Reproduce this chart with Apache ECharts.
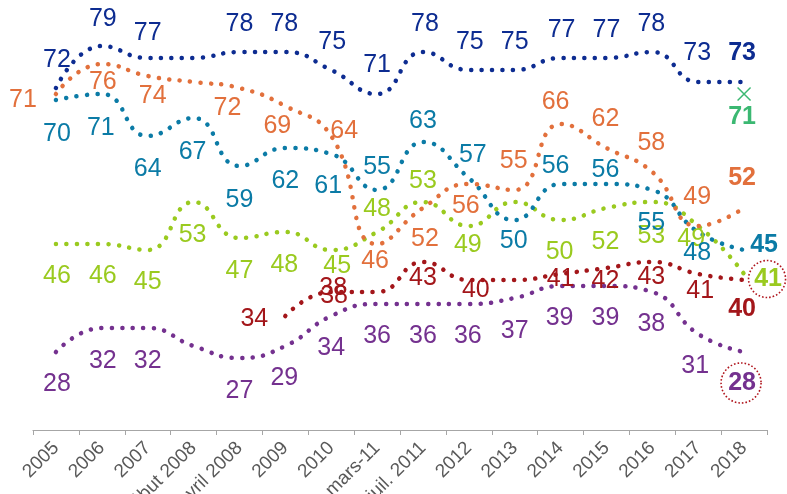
<!DOCTYPE html>
<html>
<head>
<meta charset="utf-8">
<script src="https://cdn.jsdelivr.net/npm/echarts@6/dist/echarts.min.js"></script>
<style>
  html, body { margin: 0; padding: 0; background: #fff; }
  #chart { width: 787px; height: 494px; }
</style>
</head>
<body>
<div id="chart"></div>
<script>
const categories = ['2005', '2006', '2007', 'début 2008', 'avril 2008', '2009', '2010', 'mars-11',
  'juil. 2011', '2012', '2013', '2014', '2015', '2016', '2017', '2018'];

const navy = [72, 79, 77, 77, 78, 78, 75, 71, 78, 75, 75, 77, 77, 78, 73, 73];
const orange = [71, 76, 74, 73, 72, 69, 64, 46, 52, 56, 55, 66, 62, 58, 49, 52];
const teal = [70, 71, 64, 67, 59, 62, 61, 55, 63, 57, 50, 56, 56, 55, 48, 45];
const lime = [46, 46, 45, 53, 47, 48, 45, 48, 53, 49, 53, 50, 52, 53, 49, 41];
const darkRed = [null, null, null, null, null, 34, 38, 38, 43, 40, 40, 41, 42, 43, 41, 40];
const purple = [28, 32, 32, 29, 27, 29, 34, 36, 36, 36, 37, 39, 39, 38, 31, 28];
const green = [null, null, null, null, null, null, null, null, null, null, null, null, null, null, null, 71];

// label placement (pixel offsets from the point), null = no label
const offsets = {
  navy: [[1,-28],[1,-27],[0,-25],null,[0,-28],[-1,-28],[1,-28],[0,-29],[2,-28],[1,-28],[0,-28],[1,-28],[0,-28],[-1,-28],[-1,-29],[-2,-29]],
  orange: [[-33,6],[1,18],[5,20],null,[-12,20],[-8,20],[13,-5],[-2,17],[2,31],[-3,22],[-1,-29],[-5,-22],[-1,-29],[-1,-29],[-1,-29],[-2,-30]],
  teal: [[1,34],[-1,34],[0,33],[-1,34],[0,34],[0,33],[-3,32],[0,-23],[0,-21],[4,-23],[-1,21],[-5,-18],[-1,-14],[-1,33],[-1,21],[20,-5]],
  lime: [[1,32],[1,32],[0,32],[-1,33],[0,33],[-1,33],[6,16],[0,-23],[0,-21],[-1,19],null,[-1,32],[-1,34],[-1,34],[-7,13],[24,5]],
  darkRed: [null,null,null,null,null,[-31,3],[2,-4],[-43,4],[0,16],[7,10],null,[0,5],[-1,13],[-1,15],[2,17],[-2,29]],
  purple: [[1,32],[1,33],[0,33],null,[0,33],[-1,32],[0,32],[0,32],[0,32],[-1,32],[0,33],[-1,32],[-1,32],[-1,32],[-3,32],[-2,31]]
};

const FONT = 'Liberation Sans, Arial, sans-serif';

function dotted(name, values, offs, color, extra) {
  const last = values.length - 1;
  return Object.assign({
    name: name,
    type: 'line',
    smooth: 0.5,
    symbol: 'circle',
    symbolSize: 1,
    showSymbol: true,
    itemStyle: { color: 'rgba(0,0,0,0)' },
    lineStyle: { color: color, width: 4.5, type: [0.1, 10.4], cap: 'round' },
    label: { show: true, position: 'inside', color: color, fontSize: 25, fontFamily: FONT },
    data: values.map((v, i) => ({
      value: v,
      label: offs[i]
        ? { show: true, offset: offs[i], fontWeight: i === last ? 'bold' : 'normal' }
        : { show: false }
    }))
  }, extra || {});
}

function ring(cat, val, off, size) {
  return {
    coord: [cat, val],
    symbol: 'circle',
    symbolSize: size,
    symbolOffset: off,
    itemStyle: { color: 'rgba(0,0,0,0)', borderColor: '#b0151d', borderWidth: 1.6, borderType: [1.6, 2] },
    label: { show: false }
  };
}

const chart = echarts.init(document.getElementById('chart'));

chart.setOption({
  animation: false,
  backgroundColor: '#fff',
  grid: { left: 33, right: 20, top: 10, bottom: 64, containLabel: false, outerBoundsMode: 'none' },
  xAxis: {
    type: 'category',
    data: categories,
    boundaryGap: true,
    axisLine: { lineStyle: { color: '#a6a6a6', width: 1.2 } },
    axisTick: { show: true, length: 5, interval: 0, lineStyle: { color: '#a6a6a6' } },
    axisLabel: { interval: 0, rotate: 45, fontSize: 19, color: '#595959', fontFamily: FONT, margin: 15 }
  },
  yAxis: { type: 'value', min: 15, max: 85, show: false, splitLine: { show: false } },
  series: [
    dotted('purple', purple, offsets.purple, '#74318f', {
      markPoint: { silent: true, data: [ring(categories[15], purple[15], [-3, 31], 40)] }
    }),
    dotted('darkRed', darkRed, offsets.darkRed, '#a3161a'),
    dotted('lime', lime, offsets.lime, '#9aca1f', {
      markPoint: { silent: true, data: [ring(categories[15], lime[15], [23, 5], 37)] }
    }),
    dotted('teal', teal, offsets.teal, '#0b7ba6'),
    dotted('orange', orange, offsets.orange, '#e2703c'),
    dotted('navy', navy, offsets.navy, '#0d2c91'),
    {
      name: 'green',
      type: 'scatter',
      symbol: 'path://M0,0 L10,10 M10,0 L0,10',
      symbolSize: 13,
      itemStyle: { color: 'rgba(0,0,0,0)', borderColor: '#0aa64f', borderWidth: 1.5 },
      label: {
        show: true, position: 'inside', offset: [-2, 23], color: '#0aa64f',
        fontSize: 25, fontWeight: 'bold', fontFamily: FONT
      },
      data: green
    }
  ]
});
</script>
</body>
</html>
